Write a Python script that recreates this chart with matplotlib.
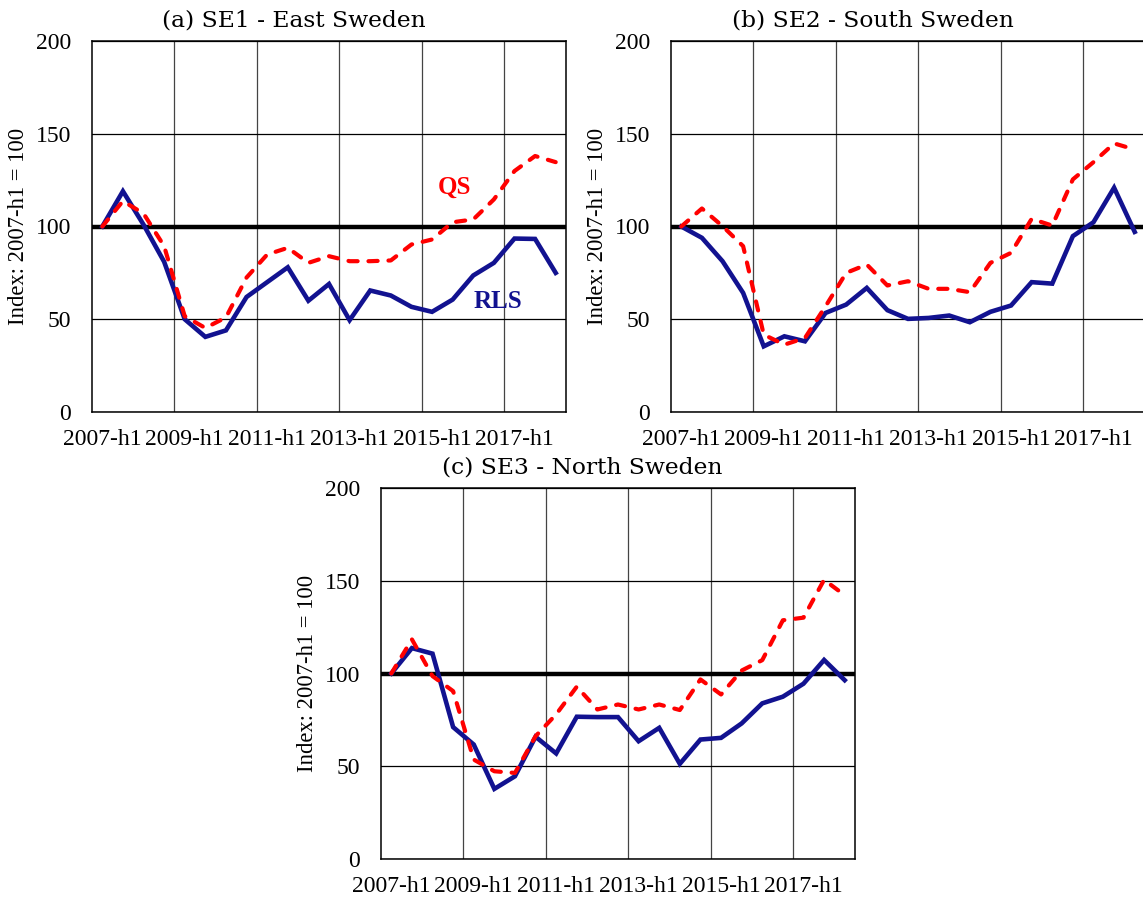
import matplotlib
matplotlib.use("Agg")
import matplotlib.pyplot as plt
import numpy as np

# half-year periods 2007-h1 .. 2018-h1
periods = ["2007-h1", "2007-h2", "2008-h1", "2008-h2", "2009-h1", "2009-h2",
           "2010-h1", "2010-h2", "2011-h1", "2011-h2", "2012-h1", "2012-h2",
           "2013-h1", "2013-h2", "2014-h1", "2014-h2", "2015-h1", "2015-h2",
           "2016-h1", "2016-h2", "2017-h1", "2017-h2", "2018-h1"]
tick_labels = ["2007-h1", "2009-h1", "2011-h1", "2013-h1", "2015-h1", "2017-h1"]

se1_rls = [100, 119, 101, 81, 50, 40.5, 44, 62, 70, 78, 60, 69, 49.5, 65.5,
           62.8, 56.7, 54, 60.6, 73.6, 80.4, 93.5, 93.3, 75]
se1_qs = [100, 113.7, 107, 89.4, 51.6, 45.3, 51, 72.5, 84.9, 88.5, 80.4, 84,
          81.3, 81.3, 81.7, 90.3, 93, 102.3, 103.8, 114.6, 129.9, 138, 134.7]

se2_rls = [100, 93.9, 81.3, 64.2, 35.4, 40.8, 38.1, 53.4, 57.9, 66.9, 54.9,
           50.2, 50.7, 52, 48.4, 54, 57.4, 70, 69.2, 94.8, 102.3, 120.9, 97.1]
se2_qs = [100, 109.7, 100.2, 89.4, 41.7, 36.3, 39.9, 57, 75, 79.5, 68.2, 70.5,
          66.4, 66.4, 64.6, 80.4, 85.8, 104.1, 100.5, 125.4, 134.7, 144.8, 141.5]

se3_rls = [100, 113.7, 110.7, 71.1, 61.7, 37.8, 44.6, 65.9, 56.9, 76.7, 76.5,
           76.5, 63.5, 70.7, 51.3, 64.4, 65.3, 73.1, 83.9, 87.5, 94.5, 107.3, 96.4]
se3_qs = [100, 118.4, 98.6, 90.5, 53.6, 47.3, 46.4, 66.2, 78, 92.9, 80.6, 83.3,
          80.6, 83.3, 80.3, 96.8, 88.7, 101.6, 107.2, 128.7, 130.1, 150.5, 142.2]

titles = ["(a) SE1 - East Sweden", "(b) SE2 - South Sweden", "(c) SE3 - North Sweden"]

BLUE = "#121290"
RED = "#ff0000"
SERIF = "Liberation Serif"


def draw_panel(ax, rls, qs, title, labels=False):
    x = np.arange(len(periods))
    ax.axhline(100, color="black", lw=3.2, zorder=2)
    ax.plot(x, rls, color=BLUE, lw=3.3, solid_joinstyle="miter", zorder=3)
    ax.plot(x, qs, color=RED, lw=3.0, dashes=(2.2, 2.6), dash_capstyle="round",
            zorder=4)

    ax.set_xlim(-0.5, len(periods) - 0.5)
    ax.set_ylim(0, 200)
    ax.set_yticks([0, 50, 100, 150, 200])
    ax.set_xticks(x[::4])
    ax.set_xticklabels(tick_labels)
    ax.set_xticks(np.arange(3.5, len(periods) - 1, 4), minor=True)
    ax.grid(True, which="minor", axis="x", color="#444444", lw=0.9)
    ax.grid(True, which="major", axis="y", color="black", lw=0.9)
    ax.tick_params(which="both", length=0)
    ax.tick_params(axis="y", pad=15, labelsize=17)
    ax.tick_params(axis="x", pad=12, labelsize=17)
    for lab in ax.get_xticklabels() + ax.get_yticklabels():
        lab.set_family(SERIF)
    for s in ax.spines.values():
        s.set_color("black")
        s.set_linewidth(1.1)
    ax.set_ylabel("Index: 2007-h1 = 100", family=SERIF, fontsize=16.3, labelpad=5)
    ax.text(0.425, 1.055, title, transform=ax.transAxes, ha="center", va="center",
            family="DejaVu Serif", fontsize=16.8)
    if labels:
        ax.text(17.1, 121, "QS", color=RED, family=SERIF, fontsize=18,
                fontweight="bold", ha="center", va="center")
        ax.text(19.2, 59.5, "RLS", color=BLUE, family=SERIF, fontsize=18,
                fontweight="bold", ha="center", va="center")


fig = plt.figure(figsize=(11.43, 9), dpi=100)
ax1 = fig.add_axes([92 / 1143, 1 - 412 / 900, 474 / 1143, 371 / 900])
ax2 = fig.add_axes([671 / 1143, 1 - 412 / 900, 474 / 1143, 371 / 900])
ax3 = fig.add_axes([381 / 1143, 1 - 859 / 900, 474 / 1143, 371 / 900])

draw_panel(ax1, se1_rls, se1_qs, titles[0], labels=True)
draw_panel(ax2, se2_rls, se2_qs, titles[1])
draw_panel(ax3, se3_rls, se3_qs, titles[2])

fig.savefig("out.png", dpi=100)
